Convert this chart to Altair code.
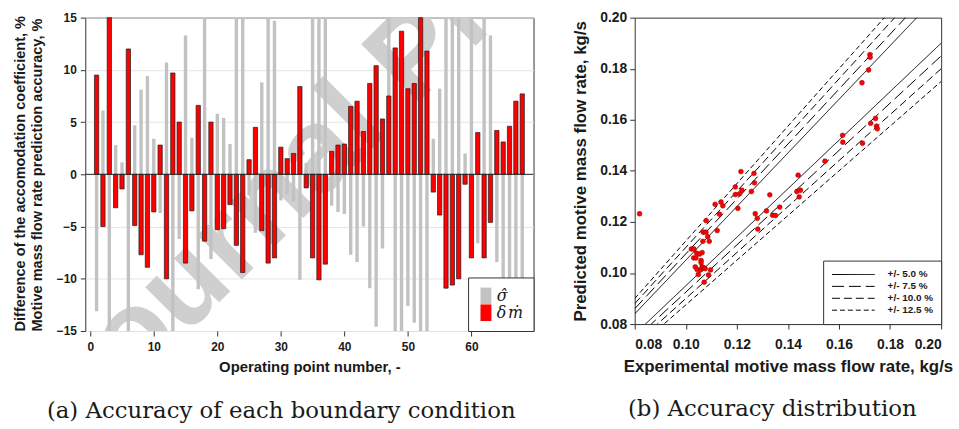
import altair as alt
import pandas as pd

# ---------------- data: panel (a) ----------------
points = list(range(1, 69))
delta_m = [9.5, -5.0, 15.0, -3.2, -1.4, 12.0, -4.9, -7.7, -8.9, -3.6,
           2.8, -10.0, 9.7, 5.0, -8.5, -3.5, 6.6, -6.4, 5.0, -5.3,
           -5.2, -2.9, -6.8, -9.4, 1.4, 4.5, -5.4, -8.5, -8.0, 2.6,
           1.5, 2.0, 8.4, -1.3, -8.0, -10.1, -8.6, 2.2, 2.8, 2.9,
           6.5, 7.0, 4.1, 8.7, 10.4, 5.3, 7.5, 12.1, 13.7, 8.2,
           8.7, 15.0, 11.8, -1.7, -3.9, -10.9, -10.6, -10.0, -0.95, -8.0,
           4.0, -8.0, -4.6, 4.2, 3.1, 4.6, 7.0, 7.7]
sigma = [-13.1, 6.1, -15.0, 2.8, 1.15, -15.0, 4.7, 8.1, 9.4, 3.4,
         -3.7, 10.7, -15.0, -6.2, 13.3, 3.5, -11.0, 15.0, -8.1, 5.8,
         5.4, 2.9, 15.0, 15.0, -2.0, -5.6, 8.8, 15.0, 14.7, -2.5,
         -1.9, -2.6, -10.1, 1.1, 15.0, 15.0, 15.0, -3.0, -3.6, -3.8,
         -7.7, -8.4, -5.0, -10.9, -14.6, -7.1, 15.0, -15.0, -15.0, -12.6,
         -14.2, -15.0, -15.0, 3.4, 8.2, 15.0, 15.0, 15.0, 2.0, 15.0,
         -6.6, 15.0, 13.3, -8.4, -12.5, -11.5, -13.0, -12.0]
x_ticks_a = [0, 10, 20, 30, 40, 50, 60]
y_ticks_a = [-15, -10, -5, 0, 5, 10, 15]
SIG = "\u03c3\u0302"
DM = "\u03b4\u200a\u1e41"

# ---------------- data: panel (b) ----------------
exp_flow = [0.0819, 0.1022, 0.1032, 0.1031, 0.1040, 0.1042, 0.1054, 0.1064, 0.1037, 0.1044,
            0.1049, 0.1058, 0.1060, 0.1060, 0.1064, 0.1071, 0.1076, 0.1072, 0.1067, 0.1068,
            0.1079, 0.1080, 0.1086, 0.1092, 0.1089, 0.1097, 0.1115, 0.1123, 0.1132, 0.1138,
            0.1145, 0.1194, 0.1194, 0.1204, 0.1210, 0.1216, 0.1220, 0.1257, 0.1267, 0.1269,
            0.1272, 0.1280, 0.1282, 0.1316, 0.1329, 0.1340, 0.1351, 0.1368, 0.1435, 0.1440,
            0.1444, 0.1449, 0.1545, 0.1614, 0.1615, 0.1690, 0.1692, 0.1716, 0.1721, 0.1722,
            0.1724, 0.1743, 0.1747, 0.1750]
pred_flow = [0.1232, 0.1094, 0.1094, 0.1059, 0.1059, 0.1078, 0.1074, 0.1080, 0.1024, 0.1014,
             0.0994, 0.1012, 0.1049, 0.1040, 0.1024, 0.1020, 0.1017, 0.0964, 0.1124, 0.1160,
             0.1160, 0.1205, 0.1142, 0.1124, 0.0992, 0.1012, 0.1269, 0.1166, 0.1230, 0.1278,
             0.1263, 0.1337, 0.1307, 0.1253, 0.1310, 0.1397, 0.1324, 0.1319, 0.1390, 0.1353,
             0.1232, 0.1214, 0.1172, 0.1243, 0.1306, 0.1226, 0.1225, 0.1258, 0.1319, 0.1383,
             0.1298, 0.1324, 0.1438, 0.1539, 0.1512, 0.1745, 0.1508, 0.1795, 0.1855, 0.1845,
             0.1586, 0.1605, 0.1575, 0.1565]
band_labels = ["+/- 5.0 %", "+/- 7.5 %", "+/- 10.0 %", "+/- 12.5 %"]
band_pct = [5.0, 7.5, 10.0, 12.5]
band_dash = [[1, 0], [12, 5], [8, 4], [5, 3]]
axis_lim_b = [0.08, 0.20]
ticks_b = [0.08, 0.10, 0.12, 0.14, 0.16, 0.18, 0.20]

FONT = "Liberation Sans"
SERIF = "DejaVu Serif"
TXT = "#1a1a1a"

# ---------------- panel (a) ----------------
bars = pd.DataFrame({
    "point": points * 2,
    "value": sigma + delta_m,
    "series": [SIG] * len(sigma) + [DM] * len(delta_m),
})

x_a = alt.X("point:Q", scale=alt.Scale(domain=[0, 69], nice=False, zero=False),
            axis=alt.Axis(values=x_ticks_a, title="Operating point number, -", grid=False,
                          labelFontSize=12, titleFontSize=15, tickSize=5, labelPadding=6,
                          titlePadding=7, domain=False))
y_a = alt.Y("value:Q", stack=None, scale=alt.Scale(domain=[-15, 15], nice=False),
            axis=alt.Axis(values=y_ticks_a, grid=True, gridColor="#e4e4e4",
                          title=["Difference of the accomodation coefficient, %",
                                 "Motive mass flow rate prediction accuracy, %"],
                          titleFontSize=14.7, titleLineHeight=17, titlePadding=12,
                          titleAnchor="start", labelFontSize=12, tickSize=5,
                          labelPadding=4, domain=False))
color_a = alt.Color("series:N",
                    scale=alt.Scale(domain=[SIG, DM], range=["#c2c2c2", "#ff0000"]),
                    legend=alt.Legend(title=None, orient="bottom-right", offset=0,
                                      fillColor="white", strokeColor="#333333",
                                      padding=10, symbolType="M-1,-1.55H1V1.55H-1Z",
                                      symbolSize=121, clipHeight=17, rowPadding=0,
                                      labelFont=SERIF, labelFontStyle="italic",
                                      labelFontWeight="normal", labelFontSize=16,
                                      labelOffset=3, symbolStrokeWidth=0,
                                      symbolOpacity=1))

base_a = alt.Chart(bars)
watermark = alt.Chart(pd.DataFrame({"t": ["Journal Pre-proof"]})).mark_text(
    font=FONT, fontSize=120, fontWeight="bold", angle=315, align="left",
    baseline="alphabetic", color="#cfcfcf", clip=True,
).encode(text="t:N", x=alt.value(1), y=alt.value(421))

gray = base_a.transform_filter(alt.datum.series == SIG).mark_bar(
    size=3.4, orient="vertical").encode(x=x_a, y=y_a, y2=alt.datum(0), color=color_a)
red = base_a.transform_filter(alt.datum.series == DM).mark_bar(
    size=4.3, orient="vertical", stroke="#1a1a1a", strokeWidth=0.7).encode(
    x=x_a, y=y_a, y2=alt.datum(0), color=color_a)
zero = alt.Chart(pd.DataFrame({"z": [0]})).mark_rule(color="#222222", strokeWidth=1).encode(y="z:Q")

panel_a = alt.layer(watermark, gray, red, zero).properties(
    width=452, height=316,
    title=alt.TitleParams("(a) Accuracy of each boundary condition", orient="bottom",
                          font=SERIF, fontSize=23, fontWeight="normal",
                          anchor="middle", frame="bounds", offset=26, dx=8, color=TXT),
)

# ---------------- panel (b) ----------------
pts = pd.DataFrame({"exp": exp_flow, "pred": pred_flow})
rows = []
for lab, p in zip(band_labels, band_pct):
    for side in (1, -1):
        for xv in axis_lim_b:
            rows.append({"band": lab, "side": side, "x": xv, "y": xv * (1 + side * p / 100.0)})
lines = pd.DataFrame(rows)

x_b = alt.X("x:Q", scale=alt.Scale(domain=axis_lim_b, nice=False, zero=False),
            axis=alt.Axis(values=ticks_b, format=".2f", grid=False,
                          title="Experimental motive mass flow rate, kg/s",
                          labelFontSize=14, titleFontSize=17, tickSize=5, labelPadding=9,
                          titlePadding=7, domain=False))
y_b = alt.Y("y:Q", scale=alt.Scale(domain=axis_lim_b, nice=False, zero=False),
            axis=alt.Axis(values=ticks_b, format=".2f", grid=False,
                          title="Predicted motive mass flow rate, kg/s",
                          labelFontSize=14, titleFontSize=17, tickSize=5, labelPadding=3,
                          titlePadding=10, domain=False))

line_layer = alt.Chart(lines).mark_line(color="black", strokeWidth=1, clip=True).encode(
    x=x_b, y=y_b, detail="side:N",
    strokeDash=alt.StrokeDash("band:N", scale=alt.Scale(domain=band_labels, range=band_dash),
                              legend=alt.Legend(title=None, orient="bottom-right", offset=0,
                                                fillColor="white", strokeColor="#333333",
                                                padding=8, symbolType="stroke",
                                                symbolSize=1850, clipHeight=12, rowPadding=0,
                                                labelFontSize=10, labelFontWeight="bold",
                                                labelOffset=12, symbolStrokeColor="black",
                                                symbolStrokeWidth=1)),
)
scatter = alt.Chart(pts).mark_circle(size=24, color="#ff0000", stroke="#8b0000",
                                     strokeWidth=0.5, opacity=1).encode(
    x=alt.X("exp:Q", scale=alt.Scale(domain=axis_lim_b, nice=False, zero=False)),
    y=alt.Y("pred:Q", scale=alt.Scale(domain=axis_lim_b, nice=False, zero=False)),
)

panel_b = alt.layer(line_layer, scatter).properties(
    width=309, height=309,
    title=alt.TitleParams("(b) Accuracy distribution", orient="bottom",
                          font=SERIF, fontSize=23, fontWeight="normal",
                          anchor="middle", frame="bounds", offset=24, dx=10, color=TXT),
)

chart = alt.hconcat(panel_a, panel_b, spacing=37).resolve_legend(
    color="independent", strokeDash="independent"
).resolve_scale(color="independent", strokeDash="independent").properties(
    padding={"left": 12, "top": 8, "right": 5, "bottom": 0},
    background="white",
).configure_view(stroke="#333333", strokeWidth=1).configure_axis(
    labelFont=FONT, titleFont=FONT, labelFontWeight="bold", titleFontWeight="bold",
    labelColor=TXT, titleColor=TXT, tickColor="#333333",
).configure_legend(labelFont=FONT, labelColor=TXT)

chart.save("out.html", embed_options={"renderer": "svg", "actions": False})
